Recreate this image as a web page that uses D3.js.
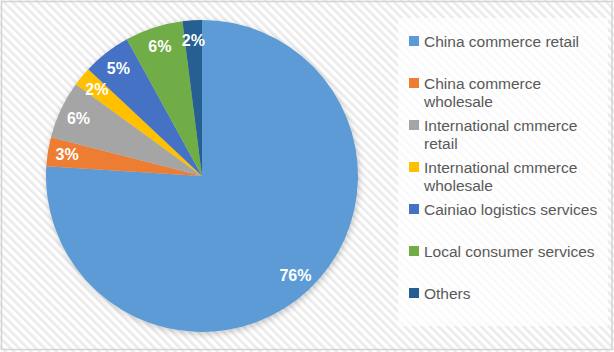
<!DOCTYPE html>
<html>
<head>
<meta charset="utf-8">
<script src="https://cdn.jsdelivr.net/npm/d3@7"></script>
<style>
  html, body { margin: 0; padding: 0; background: #fff; }
  svg { display: block; }
</style>
</head>
<body>
<svg id="chart" width="614" height="352"></svg>
<script>
// Revenue share by segment
const categories = [
  "China commerce retail",
  "China commerce wholesale",
  "International cmmerce retail",
  "International cmmerce wholesale",
  "Cainiao logistics services",
  "Local consumer services",
  "Others"
];
const shares = [76, 3, 6, 2, 5, 6, 2];
const labels = ["76%", "3%", "6%", "2%", "5%", "6%", "2%"];
// legend text split into lines as wrapped in the legend column
const legendLines = [
  ["China commerce retail"],
  ["China commerce", "wholesale"],
  ["International cmmerce", "retail"],
  ["International cmmerce", "wholesale"],
  ["Cainiao logistics services"],
  ["Local consumer services"],
  ["Others"]
];
const palette = ["#5B9BD5", "#ED7D31", "#A5A5A5", "#FFC000", "#4472C4", "#70AD47", "#255E91"];

const W = 614, H = 352;
const svg = d3.select("#chart");
const defs = svg.append("defs");

// diagonal hatched background
const pat = defs.append("pattern")
  .attr("id", "hatch")
  .attr("patternUnits", "userSpaceOnUse")
  .attr("width", 6).attr("height", 6)
  .attr("patternTransform", "rotate(-45)");
pat.append("rect").attr("width", 6).attr("height", 6).attr("fill", "#ffffff");
pat.append("rect").attr("width", 2.6).attr("height", 6).attr("fill", "#ebebeb");

const shadow = defs.append("filter").attr("id", "pieShadow")
  .attr("x", "-20%").attr("y", "-20%").attr("width", "140%").attr("height", "140%");
shadow.append("feDropShadow")
  .attr("dx", 1).attr("dy", 2).attr("stdDeviation", 3)
  .attr("flood-color", "#000").attr("flood-opacity", 0.22);

svg.append("rect").attr("width", W).attr("height", H).attr("fill", "url(#hatch)");
svg.append("rect")
  .attr("x", 1.5).attr("y", 1.5).attr("width", W - 3.5).attr("height", H - 4)
  .attr("fill", "none").attr("stroke", "#d4d4d4").attr("stroke-width", 1.5);

// legend panel
svg.append("rect")
  .attr("x", 398).attr("y", 18).attr("width", 210).attr("height", 308)
  .attr("fill", "#ffffff").attr("opacity", 0.7);

const cx = 202, cy = 176, r = 156;
const color = d3.scaleOrdinal().domain(categories).range(palette);

const data = categories.map((c, i) => ({ name: c, value: shares[i], label: labels[i] }));
const pie = d3.pie().value(d => d.value).sort(null);
const arcs = pie(data);
const arc = d3.arc().innerRadius(0).outerRadius(r);
const labelArc = d3.arc().innerRadius(r * 0.875).outerRadius(r * 0.875);

const g = svg.append("g").attr("transform", `translate(${cx},${cy})`);
g.append("g").attr("filter", "url(#pieShadow)")
  .selectAll("path")
  .data(arcs)
  .join("path")
  .attr("d", arc)
  .attr("fill", d => color(d.data.name));

g.selectAll("text.val")
  .data(arcs)
  .join("text")
  .attr("class", "val")
  .attr("transform", d => {
    const [x, y] = labelArc.centroid(d);
    return `translate(${x},${y})`;
  })
  .attr("text-anchor", "middle")
  .attr("dy", "0.36em")
  .attr("fill", "#ffffff")
  .attr("font-family", "Liberation Sans, Arial, sans-serif")
  .attr("font-weight", "bold")
  .attr("font-size", 16)
  .text(d => d.data.label);

// legend
const legendY = d3.scalePoint().domain(categories).range([41, 293]);
const lg = svg.append("g");
const item = lg.selectAll("g.item")
  .data(data)
  .join("g")
  .attr("class", "item")
  .attr("transform", d => `translate(409,${legendY(d.name)})`);
item.append("rect")
  .attr("x", 0).attr("y", -5).attr("width", 10).attr("height", 10)
  .attr("fill", d => color(d.name));
item.append("text")
  .attr("x", 15)
  .attr("fill", "#595959")
  .attr("font-family", "Liberation Sans, Arial, sans-serif")
  .attr("font-size", 15.5)
  .selectAll("tspan")
  .data((d, i) => legendLines[i])
  .join("tspan")
  .attr("x", 15)
  .attr("y", (d, j) => j * 18)
  .attr("dy", "0.36em")
  .text(d => d);
</script>
</body>
</html>
